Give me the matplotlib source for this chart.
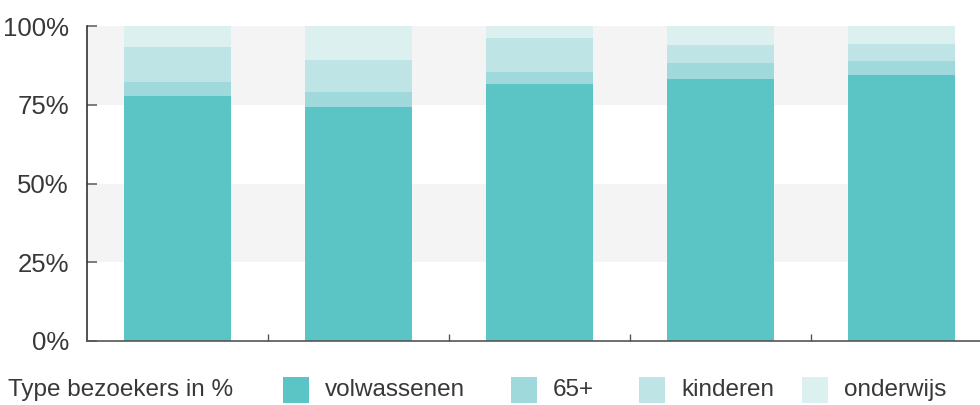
import matplotlib
matplotlib.use("Agg")
import matplotlib.pyplot as plt
from matplotlib.patches import Rectangle
import numpy as np

plt.rcParams['font.family'] = ['Liberation Sans', 'DejaVu Sans']

# Data (percent of visitors per bar)
categories = ["1", "2", "3", "4", "5"]
series_names = ["volwassenen", "65+", "kinderen", "onderwijs"]
volwassenen = [77.8, 74.3, 81.6, 83.2, 84.4]
plus65 = [4.4, 4.7, 3.8, 5.1, 4.5]
kinderen = [11.1, 10.2, 10.8, 5.7, 5.4]
onderwijs = [6.7, 10.8, 3.8, 6.0, 5.7]
y_ticks = [0, 25, 50, 75, 100]
y_tick_labels = ["0%", "25%", "50%", "75%", "100%"]
legend_title = "Type bezoekers in %"

colors = ["#5BC4C5", "#A0D9DB", "#BFE4E5", "#DDF0F0"]
text_color = "#383838"

W, H = 980, 405
fig = plt.figure(figsize=(W / 100, H / 100), dpi=100)
ax_left, ax_right, ax_top, ax_bottom = 87, 992, 26, 341
ax = fig.add_axes([ax_left / W, (H - ax_bottom) / H, (ax_right - ax_left) / W, (ax_bottom - ax_top) / H])

x = np.arange(len(categories))
bar_w = 0.586
ax.set_xlim(-0.5, len(categories) - 0.5)
ax.set_ylim(0, 100)

# alternating background bands
band_right = x[-1] + bar_w / 2
for lo, hi in [(25, 50), (75, 100)]:
    ax.fill_between([-0.5, band_right], lo, hi, color="#F4F4F4", lw=0, zorder=0)

bottom = np.zeros(len(categories))
for vals, c in zip([volwassenen, plus65, kinderen, onderwijs], colors):
    ax.bar(x, vals, bar_w, bottom=bottom, color=c, lw=0, zorder=2)
    bottom += np.array(vals)

for s in ["top", "right"]:
    ax.spines[s].set_visible(False)
ax.spines["left"].set_color("#333333")
ax.spines["left"].set_linewidth(1.2)
ax.spines["bottom"].set_color("#555555")
ax.spines["bottom"].set_linewidth(1.2)

ax.set_yticks(y_ticks)
ax.set_yticklabels(y_tick_labels, fontsize=18.5, color=text_color)
ax.tick_params(axis="y", direction="in", length=7, width=1.2, color="#666666", pad=13)
ax.set_xticks(x[:-1] + 0.5)
ax.set_xticklabels([])
ax.tick_params(axis="x", direction="in", length=5, width=1, color="#555555")

# legend
ly = H - 390
fig.text(8 / W, ly / H, legend_title, fontsize=17.5, color=text_color, va="center", ha="left")
sq_x = [283, 511, 639, 802]
for sx, name, c in zip(sq_x, series_names, colors):
    fig.patches.append(Rectangle((sx / W, (H - 403) / H), 26 / W, 26 / H,
                                 transform=fig.transFigure, color=c, lw=0))
    fig.text((sx + 42) / W, ly / H, name, fontsize=17.5, color=text_color, va="center", ha="left")

fig.savefig("out.png", dpi=100)
